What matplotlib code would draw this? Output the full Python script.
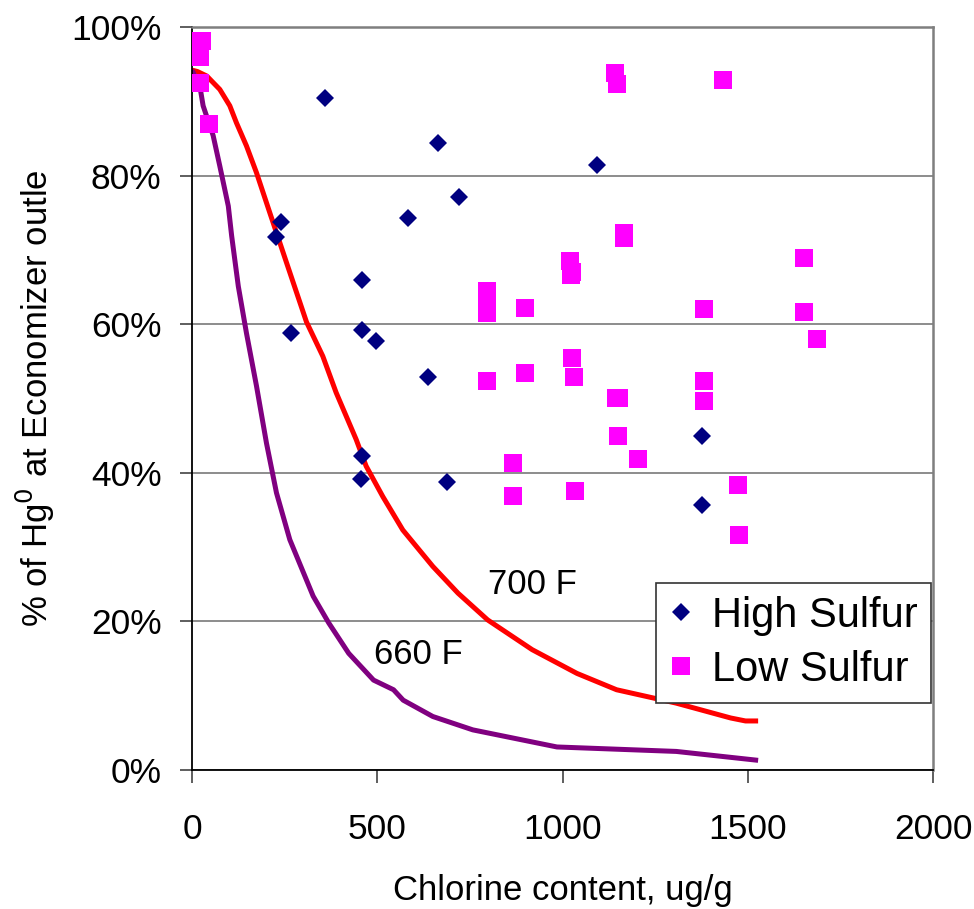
import matplotlib
matplotlib.use("Agg")
import matplotlib.pyplot as plt
from matplotlib.ticker import FuncFormatter

plt.rcParams['font.family'] = ['Liberation Sans', 'DejaVu Sans']

# High sulfur (diamonds)
hs_x = [360, 665, 720, 1094, 583, 240, 228, 459, 268, 459, 497, 638, 459, 455, 689, 1377, 1377]
hs_y = [90.5, 84.4, 77.1, 81.4, 74.3, 73.7, 71.7, 66.0, 58.8, 59.2, 57.7, 52.9, 42.2, 39.2, 38.8, 44.9, 35.6]

# Low sulfur (squares)
ls_x = [20, 26, 22, 22, 45, 1141, 1148, 1433, 1167, 1167, 1020, 1026, 1022,
        797, 797, 797, 899, 1382, 1026, 899, 797, 1031, 1145, 1152, 1382, 1382,
        1149, 1204, 867, 867, 1035, 1473, 1477, 1652, 1652, 1688]
ls_y = [98.1, 98.1, 96.0, 92.4, 86.9, 93.8, 92.3, 92.8, 72.3, 71.6, 68.5, 67.0, 66.6,
        64.5, 63.0, 61.5, 62.2, 62.1, 55.5, 53.4, 52.4, 52.9, 50.0, 50.0, 52.4, 49.6,
        44.9, 41.9, 41.3, 36.9, 37.5, 38.3, 31.6, 68.9, 61.7, 58.0]

# 700 F curve
red_x = [0, 15, 40, 75, 102, 120, 147, 174, 210, 255, 309, 353, 389, 443, 470, 515,
         569, 650, 718, 798, 918, 1039, 1146, 1307, 1454, 1494, 1528]
red_y = [94.2, 94.0, 93.4, 91.6, 89.4, 87.1, 84.0, 80.4, 75.0, 68.3, 60.3, 55.7, 50.8,
         44.5, 40.9, 36.8, 32.3, 27.4, 23.8, 20.2, 16.2, 13.0, 10.8, 9.0, 7.0, 6.6, 6.6]

# 660 F curve
pur_x = [0, 21, 30, 57, 75, 98, 107, 125, 147, 174, 201, 228, 264, 327, 369, 423,
         490, 544, 570, 650, 758, 985, 1307, 1528]
pur_y = [94.2, 92.1, 89.4, 85.4, 81.3, 75.9, 71.9, 65.1, 58.8, 51.7, 44.0, 37.3, 31.0,
         23.4, 19.8, 15.7, 12.1, 10.8, 9.4, 7.2, 5.4, 3.1, 2.5, 1.3]

x_ticks = [0, 500, 1000, 1500, 2000]
y_ticks = [0, 20, 40, 60, 80, 100]

fig = plt.figure(figsize=(9.74, 9.09), dpi=100)
ax = fig.add_axes([192/974, (909-770)/909, (933-192)/974, (770-27)/909])

ax.plot(red_x, red_y, color='#FF0000', lw=3.6, zorder=2, solid_capstyle='butt')
ax.plot(pur_x, pur_y, color='#800080', lw=3.6, zorder=2, solid_capstyle='butt')
ax.plot(hs_x, hs_y, linestyle='none', marker='D', ms=9.6, color='#000080',
        markeredgewidth=0, label='High Sulfur', zorder=3)
ax.plot(ls_x, ls_y, linestyle='none', marker='s', ms=13.4, color='#FF00FF',
        markeredgewidth=0, label='Low Sulfur', zorder=3)

ax.set_xlim(0, 2000)
ax.set_ylim(0, 100)
ax.set_xticks(x_ticks)
ax.set_yticks(y_ticks)
ax.yaxis.set_major_formatter(FuncFormatter(lambda v, p: f"{v:.0f}%"))
ax.grid(axis='y', color='#6e6e6e', lw=1.1, zorder=0)
ax.set_axisbelow(True)

for s in ['left', 'bottom']:
    ax.spines[s].set_color('black')
    ax.spines[s].set_linewidth(1.3)
for s in ['top', 'right']:
    ax.spines[s].set_color('#7f7f7f')
    ax.spines[s].set_linewidth(1.8)

ax.tick_params(axis='both', direction='out', length=9, width=1.1, labelsize=25.5, color='#333333')
ax.tick_params(axis='x', pad=22)
ax.tick_params(axis='y', pad=13)

ax.set_xlabel('Chlorine content, ug/g', fontsize=25, labelpad=20)
ax.set_ylabel(r'% of Hg$^0$ at Economizer outle', fontsize=25, labelpad=10)

ax.text(918, 24.9, '700 F', fontsize=25, ha='center', va='center')
ax.text(611, 15.5, '660 F', fontsize=25, ha='center', va='center')

leg = ax.legend(loc='upper left', bbox_to_anchor=(656/974, 1 - 583/909),
                bbox_transform=fig.transFigure, fontsize=30, frameon=True,
                fancybox=False, shadow=False, handlelength=0.6, handletextpad=0.45,
                borderpad=0.3, labelspacing=0.35, borderaxespad=0, markerscale=1.0)
leg.get_frame().set_edgecolor('#333333')
leg.get_frame().set_linewidth(1.2)
leg.get_frame().set_alpha(1)

fig.savefig('out.png', dpi=100)
